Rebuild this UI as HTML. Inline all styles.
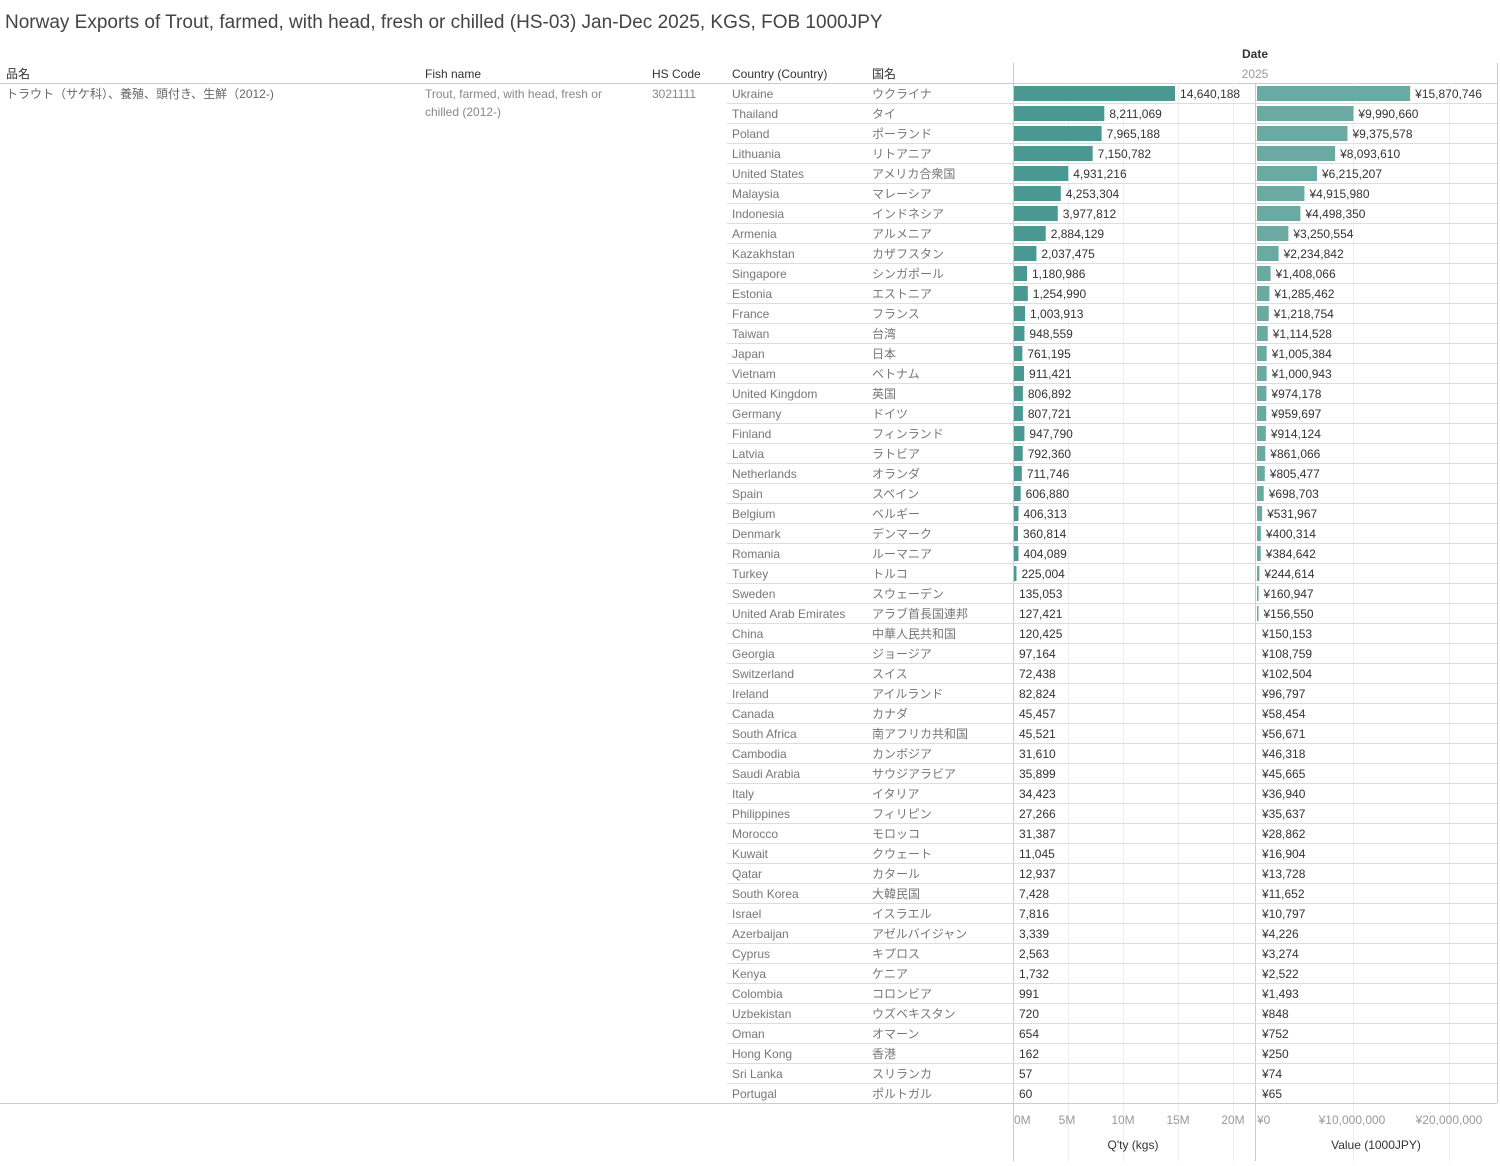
<!DOCTYPE html>
<html><head><meta charset="utf-8">
<style>
body{margin:0;width:1500px;height:1161px;background:#fff;overflow:hidden;font-family:"Liberation Sans","Noto Sans CJK JP",sans-serif;}
svg text{font-family:"Liberation Sans","Noto Sans CJK JP",sans-serif;}
</style></head><body>
<svg id="s" width="1500" height="1161" xmlns="http://www.w3.org/2000/svg">
<text x="5" y="28" font-size="19" fill="#444">Norway Exports of Trout, farmed, with head, fresh or chilled (HS-03) Jan-Dec 2025, KGS, FOB 1000JPY</text>
<text x="1255" y="58" font-size="12" fill="#333" font-weight="bold" text-anchor="middle">Date</text>
<text x="1255" y="78" font-size="12" fill="#999" text-anchor="middle">2025</text>
<text x="6" y="78" font-size="12" fill="#333">品名</text>
<text x="425" y="78" font-size="12" fill="#333">Fish name</text>
<text x="652" y="78" font-size="12" fill="#333">HS Code</text>
<text x="732" y="78" font-size="12" fill="#333">Country (Country)</text>
<text x="872" y="78" font-size="12" fill="#333">国名</text>
<line x1="0" y1="83.5" x2="1497" y2="83.5" stroke="#ccc"/>
<line x1="1013.5" y1="63" x2="1013.5" y2="1161" stroke="#ccc"/>
<line x1="1255.5" y1="83" x2="1255.5" y2="1161" stroke="#ccc"/>
<line x1="1497.5" y1="63" x2="1497.5" y2="1103" stroke="#ccc"/>
<text x="6" y="98" font-size="12" fill="#666">トラウト（サケ科）、養殖、頭付き、生鮮（2012-)</text>
<text x="425" y="98" font-size="12" fill="#888">Trout, farmed, with head, fresh or</text>
<text x="425" y="116" font-size="12" fill="#888">chilled (2012-)</text>
<text x="652" y="98" font-size="12" fill="#888">3021111</text>
<g id="g"></g>
<line x1="0" y1="1103.5" x2="1497" y2="1103.5" stroke="#ccc"/>
<g font-size="12" fill="#999">
<text x="1014" y="1124">0M</text><text x="1067" y="1124" text-anchor="middle">5M</text><text x="1123" y="1124" text-anchor="middle">10M</text><text x="1178" y="1124" text-anchor="middle">15M</text><text x="1233" y="1124" text-anchor="middle">20M</text>
<text x="1257" y="1124">¥0</text><text x="1352" y="1124" text-anchor="middle">¥10,000,000</text><text x="1449" y="1124" text-anchor="middle">¥20,000,000</text>
</g>
<text x="1133" y="1149" font-size="12" fill="#333" text-anchor="middle">Q'ty (kgs)</text>
<text x="1376" y="1149" font-size="12" fill="#333" text-anchor="middle">Value (1000JPY)</text>
</svg>
<script>
var d=[["Ukraine","ウクライナ",14640188,15870746],["Thailand","タイ",8211069,9990660],["Poland","ポーランド",7965188,9375578],["Lithuania","リトアニア",7150782,8093610],["United States","アメリカ合衆国",4931216,6215207],["Malaysia","マレーシア",4253304,4915980],["Indonesia","インドネシア",3977812,4498350],["Armenia","アルメニア",2884129,3250554],["Kazakhstan","カザフスタン",2037475,2234842],["Singapore","シンガポール",1180986,1408066],["Estonia","エストニア",1254990,1285462],["France","フランス",1003913,1218754],["Taiwan","台湾",948559,1114528],["Japan","日本",761195,1005384],["Vietnam","ベトナム",911421,1000943],["United Kingdom","英国",806892,974178],["Germany","ドイツ",807721,959697],["Finland","フィンランド",947790,914124],["Latvia","ラトビア",792360,861066],["Netherlands","オランダ",711746,805477],["Spain","スペイン",606880,698703],["Belgium","ベルギー",406313,531967],["Denmark","デンマーク",360814,400314],["Romania","ルーマニア",404089,384642],["Turkey","トルコ",225004,244614],["Sweden","スウェーデン",135053,160947],["United Arab Emirates","アラブ首長国連邦",127421,156550],["China","中華人民共和国",120425,150153],["Georgia","ジョージア",97164,108759],["Switzerland","スイス",72438,102504],["Ireland","アイルランド",82824,96797],["Canada","カナダ",45457,58454],["South Africa","南アフリカ共和国",45521,56671],["Cambodia","カンボジア",31610,46318],["Saudi Arabia","サウジアラビア",35899,45665],["Italy","イタリア",34423,36940],["Philippines","フィリピン",27266,35637],["Morocco","モロッコ",31387,28862],["Kuwait","クウェート",11045,16904],["Qatar","カタール",12937,13728],["South Korea","大韓民国",7428,11652],["Israel","イスラエル",7816,10797],["Azerbaijan","アゼルバイジャン",3339,4226],["Cyprus","キプロス",2563,3274],["Kenya","ケニア",1732,2522],["Colombia","コロンビア",991,1493],["Uzbekistan","ウズベキスタン",720,848],["Oman","オマーン",654,752],["Hong Kong","香港",162,250],["Sri Lanka","スリランカ",57,74],["Portugal","ポルトガル",60,65]];
var h='';
[1068,1123,1178,1233,1353,1449].forEach(function(x){h+='<line x1="'+(x+.5)+'" y1="83" x2="'+(x+.5)+'" y2="1161" stroke="#eee"/>';});
d.forEach(function(r,i){var y=83+20*i;
if(i>0)h+='<line x1="727" y1="'+(y+.5)+'" x2="1497" y2="'+(y+.5)+'" stroke="#ddd"/>';
h+='<text x="732" y="'+(y+15)+'" font-size="12" fill="#777">'+r[0]+'</text>';
h+='<text x="872" y="'+(y+15)+'" font-size="12" fill="#777">'+r[1]+'</text>';
var w1=r[2]/1e6*11, w2=r[3]/1e7*96.5;
if(w1<1.5)w1=0; if(w2<1.5)w2=0;
if(w1>0)h+='<rect x="1014" y="'+(y+3)+'" width="'+w1+'" height="15" fill="#4a9891"/>';
if(w2>0)h+='<rect x="1257" y="'+(y+3)+'" width="'+w2+'" height="15" fill="#6aaaa3"/>';
h+='<text x="'+(1019+w1)+'" y="'+(y+15)+'" font-size="12" fill="#333">'+r[2].toLocaleString('en-US')+'</text>';
h+='<text x="'+(1262+w2)+'" y="'+(y+15)+'" font-size="12" fill="#333">¥'+r[3].toLocaleString('en-US')+'</text>';
});
document.getElementById('g').innerHTML=h;
</script>
</body></html>
